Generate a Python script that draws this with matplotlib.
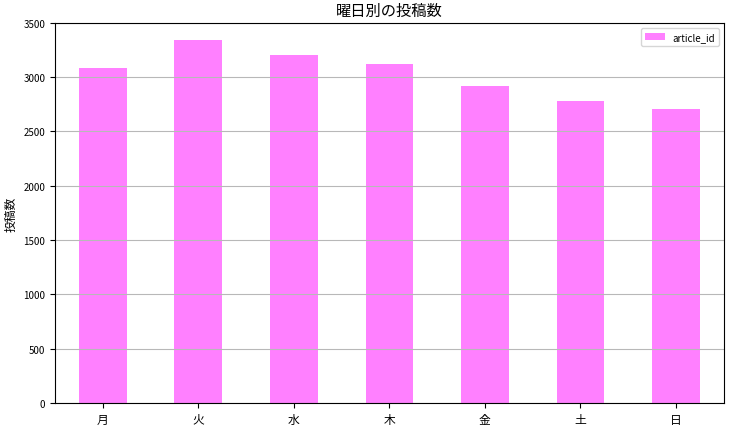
import numpy as np
import matplotlib.pyplot as plt

plt.rcParams['font.family'] = ['Noto Sans CJK JP', 'DejaVu Sans']

days = ['月', '火', '水', '木', '金', '土', '日']
counts = [3084, 3346, 3202, 3120, 2921, 2777, 2704]

fig = plt.figure(figsize=(7.34, 4.27), dpi=100)
ax = fig.add_axes([0.075, 0.054, 0.911, 0.89])

x = np.arange(len(days))
ax.bar(x, counts, width=0.5, color='#ff80ff', label='article_id', zorder=1)
ax.set_xlim(-0.5, len(days) - 0.5)
ax.set_ylim(0, 3500)
ax.set_xticks(x)
ax.set_xticklabels(days, fontsize=8.5)
ax.set_yticks(np.arange(0, 3501, 500))
ax.tick_params(axis='y', labelsize=7)
ax.yaxis.grid(True, color='#b8b8b8', linewidth=0.8, zorder=2)
ax.set_axisbelow(False)
for s in ax.spines.values():
    s.set_zorder(5)
ax.set_ylabel('投稿数', fontsize=8.5)
ax.set_title('曜日別の投稿数', fontsize=11)
ax.legend(loc='upper right', fontsize=7)

fig.savefig('out.png', dpi=100)
